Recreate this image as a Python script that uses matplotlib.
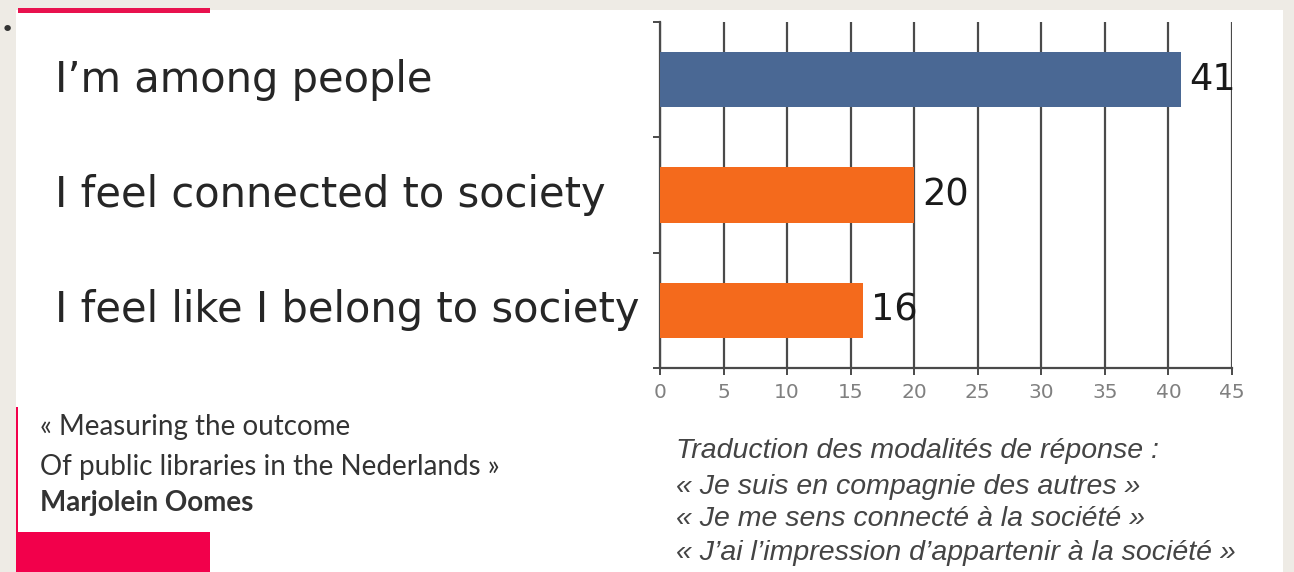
import matplotlib.pyplot as plt
import matplotlib.transforms as mtransforms
from matplotlib.patches import Rectangle

# data
categories = ["I\u2019m among people", "I feel connected to society", "I feel like I belong to society"]
values = [41, 20, 16]
bar_colors = ["#4A6894", "#F46A1C"]
xticks = [0, 5, 10, 15, 20, 25, 30, 35, 40, 45]

source_lines = ["\u00ab Measuring the outcome", "Of public libraries in the Nederlands \u00bb", "Marjolein Oomes"]
note_lines = ["Traduction des modalit\u00e9s de r\u00e9ponse :",
              "\u00ab Je suis en compagnie des autres \u00bb",
              "\u00ab Je me sens connect\u00e9 \u00e0 la soci\u00e9t\u00e9 \u00bb",
              "\u00ab J\u2019ai l\u2019impression d\u2019appartenir \u00e0 la soci\u00e9t\u00e9 \u00bb"]

W, H = 1294, 572
fig = plt.figure(figsize=(W / 100, H / 100), dpi=100)
fig.patch.set_facecolor("#EEEBE5")

# slide background and red decorations
red = "#F2004B"
fig.patches.append(Rectangle((16 / W, 0), (1283 - 16) / W, 1 - 10 / H, transform=fig.transFigure,
                             facecolor="white", edgecolor="none", zorder=-2))
fig.patches.append(Rectangle((18 / W, 1 - 13 / H), (210 - 18) / W, 5 / H, transform=fig.transFigure,
                             facecolor="#E8124E", edgecolor="none", zorder=-1))
fig.patches.append(Rectangle((16 / W, 0), (210 - 16) / W, 40 / H, transform=fig.transFigure,
                             facecolor=red, edgecolor="none", zorder=-1))
fig.patches.append(Rectangle((16 / W, 40 / H), 2 / W, 125 / H, transform=fig.transFigure,
                             facecolor=red, edgecolor="none", zorder=-1))
fig.text(1 / W, 1 - 30 / H, "\u2022", fontsize=16, color="#333333", va="center", ha="left")

ax = fig.add_axes([660 / W, 1 - 368 / H, (1232 - 660) / W, (368 - 22) / H])
ax.set_zorder(2)
ax.set_facecolor("none")

y = list(range(len(categories)))
colors = [bar_colors[0]] + [bar_colors[1]] * (len(values) - 1)
ax.barh(y, values, height=0.48, color=colors, zorder=3)

for i, v in enumerate(values):
    ax.text(v + 0.6, i, str(v), va="center", ha="left", fontsize=26.5,
            family="DejaVu Sans", color="#1a1a1a", zorder=4)

ax.set_xlim(0, 45)
ax.set_ylim(2.5, -0.5)
ax.set_xticks(xticks)
ax.set_xticklabels([str(t) for t in xticks], fontsize=14.5, color="#808080", family="DejaVu Sans")
ax.set_yticks([-0.5, 0.5, 1.5, 2.5])
ax.set_yticklabels([])
ax.grid(axis="x", color="#4a4a4a", linewidth=1.6, zorder=1)
ax.tick_params(axis="x", direction="out", length=5, width=1.4, color="#4a4a4a", pad=6)
ax.tick_params(axis="y", direction="out", length=5, width=1.4, color="#4a4a4a")
for side in ["top", "right"]:
    ax.spines[side].set_visible(False)
for side in ["left", "bottom"]:
    ax.spines[side].set_color("#4a4a4a")
    ax.spines[side].set_linewidth(1.6)

# category labels on the left side of the slide
trans = mtransforms.blended_transform_factory(fig.transFigure, ax.transData)
for i, c in enumerate(categories):
    ax.text(55 / W, i, c, transform=trans, va="center", ha="left", fontsize=30,
            family="DejaVu Sans", color="#262626", clip_on=False)

# source, bottom left
src_y = [427, 467, 503]
for k, line in enumerate(source_lines):
    fig.text(40 / W, 1 - src_y[k] / H, line, va="center", ha="left", fontsize=20,
             family="Lato", color="#333333", fontweight="bold" if k == 2 else "normal")

# translation note, bottom right
note_y = [451, 487, 519, 553]
for k, line in enumerate(note_lines):
    fig.text(676 / W, 1 - note_y[k] / H, line, va="center", ha="left", fontsize=20.5,
             family="Liberation Sans", style="italic", color="#444444")

fig.savefig("out.png", dpi=100, facecolor=fig.get_facecolor())
